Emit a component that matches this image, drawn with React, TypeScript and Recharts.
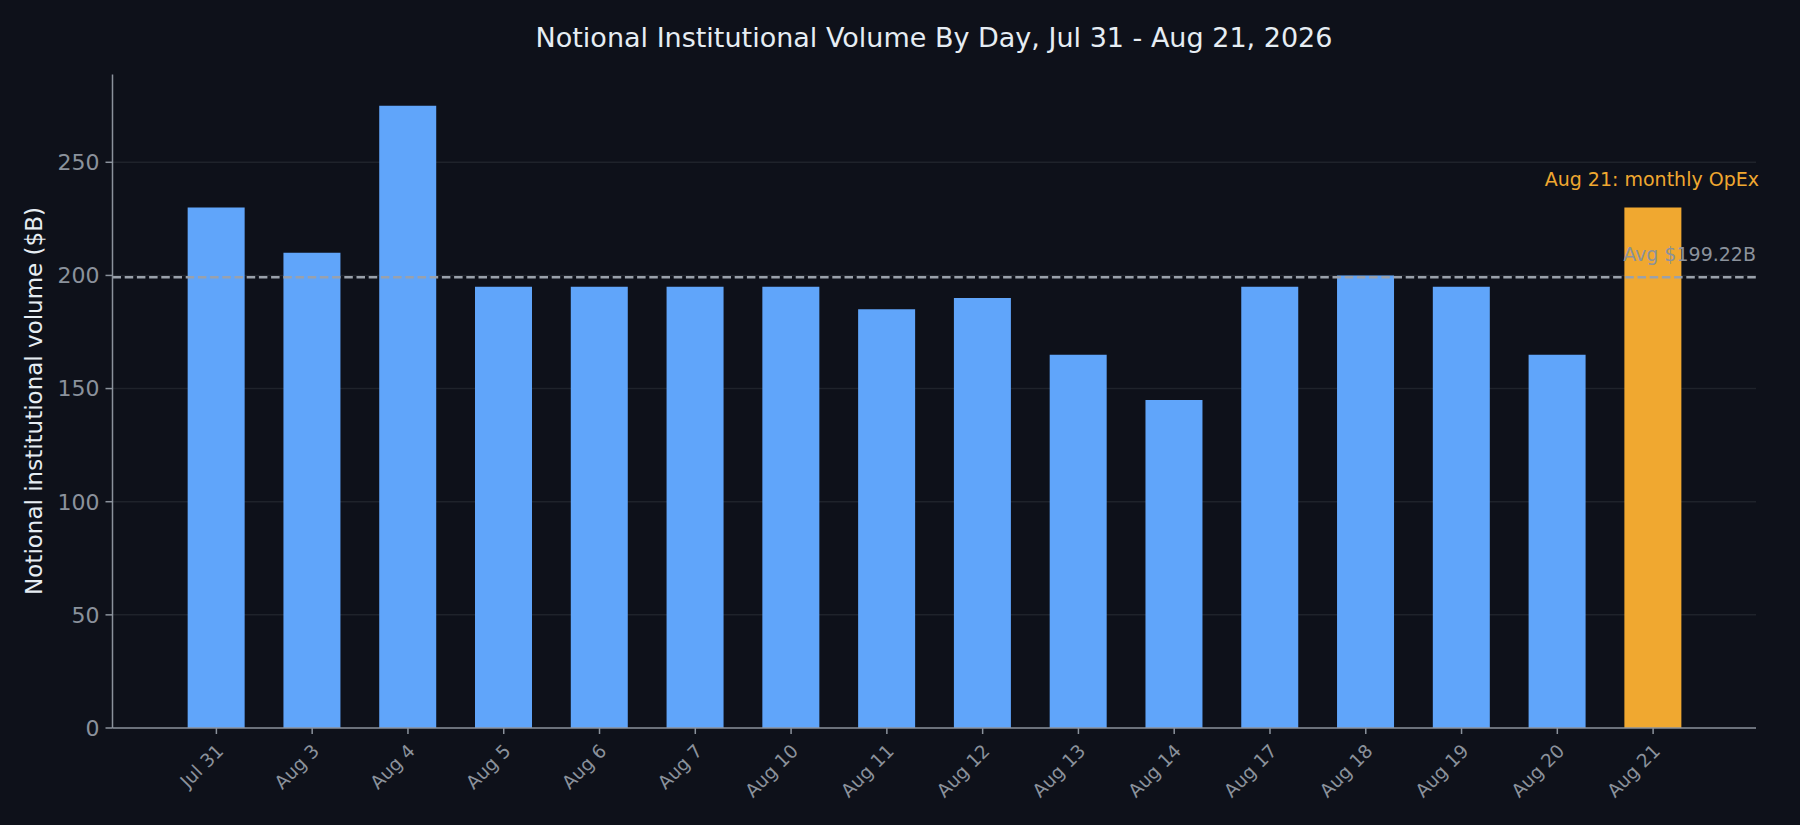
import React from 'react';
import {
  BarChart,
  Bar,
  Cell,
  XAxis,
  YAxis,
  CartesianGrid,
  ReferenceLine
} from 'recharts';

const days = [
  'Jul 31', 'Aug 3', 'Aug 4', 'Aug 5', 'Aug 6', 'Aug 7', 'Aug 10', 'Aug 11',
  'Aug 12', 'Aug 13', 'Aug 14', 'Aug 17', 'Aug 18', 'Aug 19', 'Aug 20', 'Aug 21'
];
const volumes = [230, 210, 275, 195, 195, 195, 195, 185, 190, 165, 145, 195, 200, 195, 165, 230];
const highlightDay = 'Aug 21';
const avgVolume = 199.22;
const yTicks = [0, 50, 100, 150, 200, 250];
const gridValues = [50, 100, 150, 200, 250];

const BG = '#0e111a';
const MUTED = '#8b929c';
const GRID = '#1f232b';
const BLUE = '#60a5fa';
const ORANGE = '#f0a830';
const FONT = '"DejaVu Sans", sans-serif';

const chartData = days.map((day, i) => ({ day, volume: volumes[i] }));

const XTick = ({ x, y, payload }: any) => (
  <g transform={`translate(${x - 1},${y + 7})`}>
    <text
      x={0}
      y={0}
      dy="0.7em"
      textAnchor="end"
      transform="rotate(-45)"
      fill={MUTED}
      fontSize={18.5}
      fontFamily={FONT}
    >
      {payload.value}
    </text>
  </g>
);

const AvgLabel = ({ viewBox }: any) => {
  if (!viewBox) return null;
  return (
    <text
      x={viewBox.x + viewBox.width}
      y={viewBox.y - 16}
      textAnchor="end"
      fill={MUTED}
      fontSize={19}
      fontFamily={FONT}
    >
      Avg ${avgVolume.toFixed(2)}B
    </text>
  );
};

const OpexLabel = ({ viewBox }: any) => {
  if (!viewBox) return null;
  return (
    <text
      x={viewBox.x + viewBox.width + 3}
      y={viewBox.y - 22}
      textAnchor="end"
      fill={ORANGE}
      fontSize={19}
      fontFamily={FONT}
    >
      Aug 21: monthly OpEx
    </text>
  );
};

export default function App() {
  const opexValue = volumes[days.indexOf(highlightDay)];
  return (
    <div style={{ position: 'relative', width: 1800, height: 825, background: BG, fontFamily: FONT }}>
      <style>{`body{margin:0;background:${BG};}`}</style>
      <div
        style={{
          position: 'absolute',
          top: 22,
          left: 0,
          width: 1868,
          textAlign: 'center',
          color: '#e6edf3',
          fontSize: 27,
          lineHeight: '32px'
        }}
      >
        Notional Institutional Volume By Day, Jul 31 - Aug 21, 2026
      </div>
      <div
        style={{
          position: 'absolute',
          left: 34,
          top: 401,
          transform: 'translate(-50%, -50%) rotate(-90deg)',
          whiteSpace: 'nowrap',
          color: '#e6edf3',
          fontSize: 23
        }}
      >
        Notional institutional volume ($B)
      </div>
      <BarChart
        width={1800}
        height={825}
        data={chartData}
        margin={{ top: 74.6, right: 44, left: 32.5, bottom: 17 }}
        barCategoryGap="20%"
      >
        <CartesianGrid
          vertical={false}
          horizontalValues={gridValues}
          stroke={GRID}
          strokeWidth={1.5}
        />
        <XAxis
          dataKey="day"
          interval={0}
          height={80}
          padding={{ left: 56, right: 55 }}
          axisLine={{ stroke: MUTED, strokeWidth: 1.5 }}
          tickLine={{ stroke: MUTED, strokeWidth: 1.5 }}
          tickSize={6}
          tick={<XTick />}
        />
        <YAxis
          width={80}
          domain={[0, 288.75]}
          ticks={yTicks}
          allowDataOverflow
          axisLine={{ stroke: MUTED, strokeWidth: 1.5 }}
          tickLine={{ stroke: MUTED, strokeWidth: 1.5 }}
          tickSize={7}
          tickMargin={6}
          tick={{ fill: MUTED, fontSize: 22, fontFamily: FONT }}
        />
        <Bar dataKey="volume" isAnimationActive={false}>
          {chartData.map((d) => (
            <Cell key={d.day} fill={d.day === highlightDay ? ORANGE : BLUE} />
          ))}
        </Bar>
        <ReferenceLine
          y={avgVolume}
          stroke="#9aa1ab"
          strokeWidth={2.5}
          strokeDasharray="8.5 3.7"
          label={<AvgLabel />}
        />
        <ReferenceLine y={opexValue} stroke="none" label={<OpexLabel />} />
      </BarChart>
    </div>
  );
}
